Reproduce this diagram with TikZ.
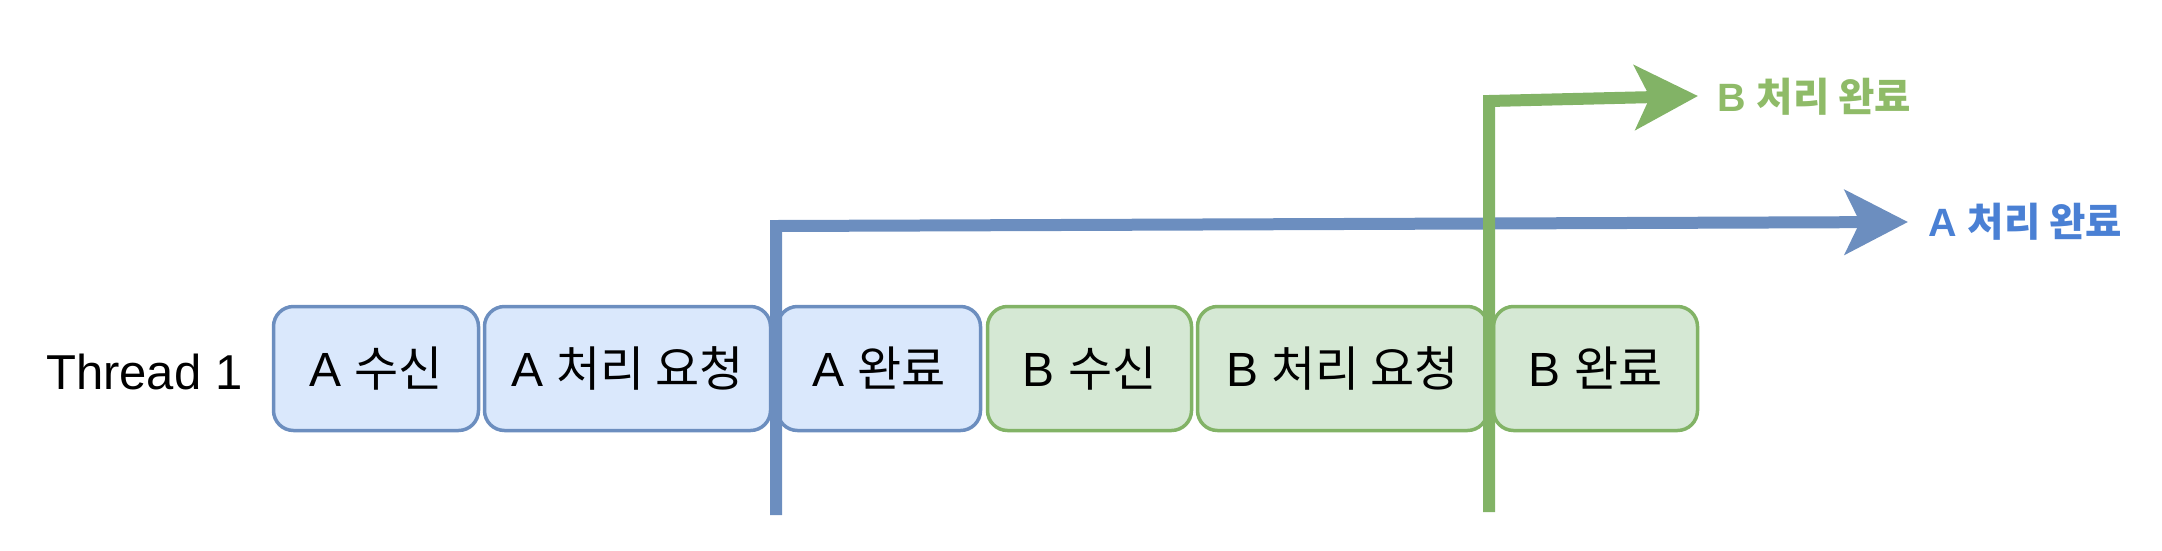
\documentclass[tikz,border=0pt]{standalone}
\usepackage{fontspec}
\setmainfont{Liberation Sans}
\newfontfamily\kr{Noto Sans CJK KR}
\usetikzlibrary{arrows.meta}
\definecolor{bstroke}{HTML}{6C8EBF}
\definecolor{bfill}{HTML}{DAE8FC}
\definecolor{gstroke}{HTML}{82B366}
\definecolor{gfill}{HTML}{D5E8D4}
\definecolor{btext}{HTML}{4A80D4}
\definecolor{gtext}{HTML}{8FBB68}
\begin{document}
\begin{tikzpicture}[x=1pt,y=-1pt,
  box/.style={draw, line width=3.5pt, rounded corners=20pt, minimum height=124pt, inner sep=0pt, font=\fontsize{48}{58}\selectfont, text=black},
  abox/.style={box, draw=bstroke, fill=bfill},
  bbox/.style={box, draw=gstroke, fill=gfill},
  flow/.style={line width=12pt, -{Stealth[length=63pt,width=64pt,inset=15pt]}},
  lbl/.style={anchor=west, font=\fontsize{39.5}{46}\selectfont\bfseries, inner sep=0pt}]
\useasboundingbox (0,0) rectangle (2162,550);
\node[anchor=west, inner sep=0pt, font=\fontsize{49}{58}\selectfont] (t1) at (46,372) {Thread 1};
\node[abox, minimum width=205pt] (a1) at (376,368.5) {A {\kr 수신}};
\node[abox, minimum width=286pt] (a2) at (627.5,368.5) {A {\kr 처리 요청}};
\node[abox, minimum width=203pt] (a3) at (879,368.5) {A {\kr 완료}};
\node[bbox, minimum width=204pt] (b1) at (1089.5,368.5) {B {\kr 수신}};
\node[bbox, minimum width=290pt] (b2) at (1342.5,368.5) {B {\kr 처리 요청}};
\node[bbox, minimum width=204pt] (b3) at (1595.5,368.5) {B {\kr 완료}};
\coordinate (abot) at (776,515);
\coordinate (acorner) at (776,226);
\coordinate (aend) at (1908,222);
\coordinate (gbot) at (1489,512);
\coordinate (gcorner) at (1489,101);
\coordinate (gend) at (1698,96);
\draw[flow, color=bstroke] (abot) -- (acorner) -- (aend);
\draw[flow, color=gstroke] (gbot) -- (gcorner) -- (gend);
\node[lbl, text=btext] (alab) at (1928,222) {A {\kr 처리 완료}};
\node[lbl, text=gtext] (blab) at (1717,97) {B {\kr 처리 완료}};
\end{tikzpicture}
\end{document}
